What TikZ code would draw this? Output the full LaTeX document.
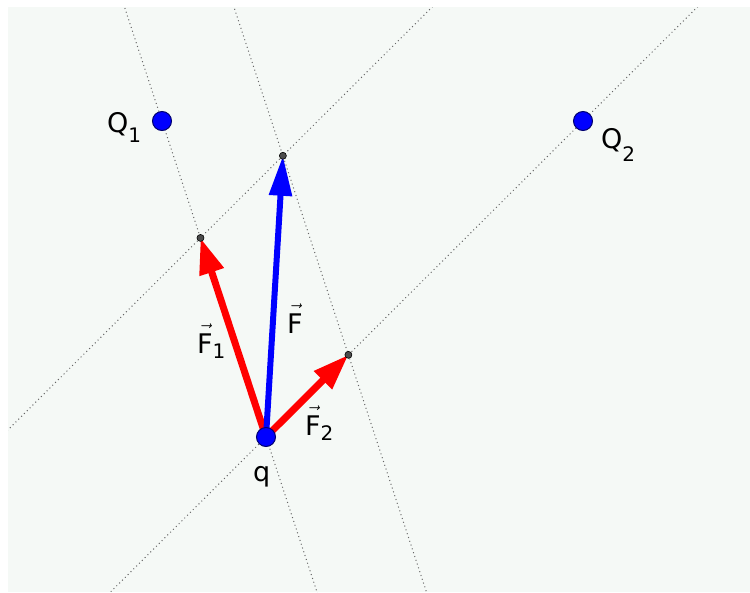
\documentclass[tikz,border=0pt]{standalone}
\usepackage{fontspec}
\setmainfont{DejaVu Sans}
\usepackage{amsmath}
\usetikzlibrary{arrows.meta,calc,backgrounds}
\definecolor{panel}{RGB}{245,249,246}
\definecolor{chgblue}{RGB}{0,0,255}
\definecolor{chgrim}{RGB}{0,0,110}
\definecolor{frcred}{RGB}{255,0,0}
\newcommand{\lowidx}[2]{\raisebox{-#1}{\fontsize{20}{20}\selectfont #2}}
\newcommand{\vecF}{$\vec{\text{F}\rule{0pt}{22pt}}$}

\begin{document}
\begin{tikzpicture}[x=1pt, y=-1pt,
    chg/.style={circle, fill=chgblue, draw=chgrim, line width=1pt,
                minimum size=19pt, inner sep=0pt},
    tipdot/.style={circle, fill=black!70, draw=black, line width=0.6pt,
                   minimum size=7pt, inner sep=0pt},
    aux/.style={draw=black!60, line width=1pt, dash pattern=on 1pt off 3pt},
    frc/.style={line width=7pt, -{Triangle[length=36pt,width=24pt]}},
    lbl/.style={anchor=base west, inner sep=0pt, font=\fontsize{27}{30}\selectfont}
]
\useasboundingbox (0,0) rectangle (750,592);

\node[chg] (Q1) at (162,121) {};
\node[chg] (Q2) at (583,121) {};
\node[chg] (q) at (266,437) {};
\node[tipdot] (f1) at ($(q)!0.63!(Q1)$) {};
\node[tipdot] (f2) at ($(q)!0.26!(Q2)$) {};
\node[tipdot] (fsum) at ($(f1)+(f2)-(q)$) {};

\begin{scope}[on background layer]
\fill[panel] (8,7) rectangle (750,592);
\clip (8,7) rectangle (750,592);
\draw[aux] ($(q)!-2!(Q1)$) -- ($(q)!3!(Q1)$);
\draw[aux] ($(q)!-2!(Q2)$) -- ($(q)!3!(Q2)$);
\draw[aux] ($(f2)!-3!(fsum)$) -- ($(f2)!3!(fsum)$);
\draw[aux] ($(f1)!-3!(fsum)$) -- ($(f1)!3!(fsum)$);
\draw[frc, frcred] (q.center) -- (f1.center);
\draw[frc, frcred] (q.center) -- (f2.center);
\draw[frc, chgblue, line width=6pt, -{Triangle[length=40pt,width=22pt]}] (q.center) -- (fsum.center);
\end{scope}

\node[lbl] (lQ1) at (107,132) {Q\lowidx{10pt}{1}};
\node[lbl] (lQ2) at (601,148) {Q\lowidx{13pt}{2}};
\node[lbl] (lF) at (287,333) {\vecF};
\node[lbl] (lF1) at (197,353) {\vecF\lowidx{5pt}{1}};
\node[lbl] (lF2) at (305,435) {\vecF\lowidx{5pt}{2}};
\node[lbl] (lq) at (253,481) {q};
\end{tikzpicture}
\end{document}
